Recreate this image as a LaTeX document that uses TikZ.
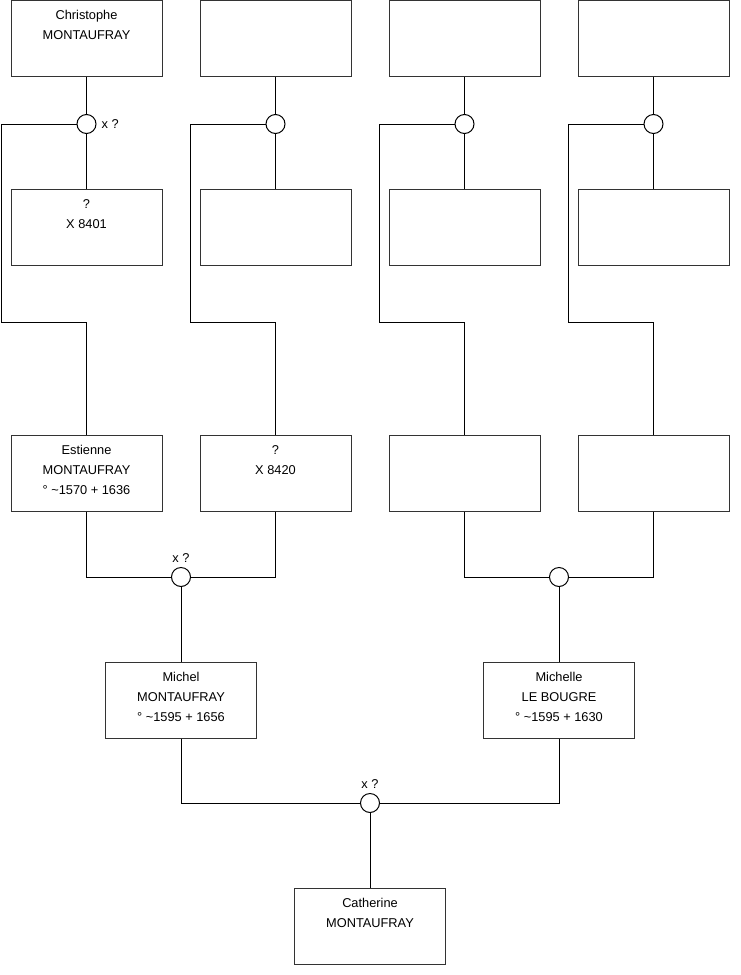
\documentclass[tikz,border=0pt]{standalone}
\usepackage{fontspec}
\setmainfont{Liberation Sans}
\begin{document}
\begin{tikzpicture}[x=1pt,y=-1pt,
  box/.style={draw=black!80, line width=1pt, minimum width=151pt, minimum height=76pt, inner sep=0pt},
  ring/.style={circle, draw=black, fill=white, line width=1pt, minimum size=19pt, inner sep=0pt},
  link/.style={draw=black, line width=1pt},
  txt/.style={font=\fontsize{12.8}{20}\selectfont, align=center, anchor=north, inner sep=0pt, yshift=-10.5pt},
  who/.style={label={[txt]north:{#1}}},
  xq/.style={font=\fontsize{12.8}{15}\selectfont, inner sep=0pt}]
\useasboundingbox (0,0) rectangle (740,975);
% top row
\node[box, who={Christophe\\MONTAUFRAY}] (b1) at (86.5,38.5) {};
\node[box] (b2) at (275.5,38.5) {};
\node[box] (b3) at (464.5,38.5) {};
\node[box] (b4) at (653.5,38.5) {};
% second row
\node[box, who={?\\X 8401}] (s1) at (86.5,227) {};
\node[box] (s2) at (275.5,227) {};
\node[box] (s3) at (464.5,227) {};
\node[box] (s4) at (653.5,227) {};
% third row
\node[box, who={Estienne\\MONTAUFRAY\\° \textasciitilde1570 + 1636}] (e1) at (86.5,473) {};
\node[box, who={?\\X 8420}] (e2) at (275.5,473) {};
\node[box] (e3) at (464.5,473) {};
\node[box] (e4) at (653.5,473) {};
% fourth row
\node[box, who={Michel\\MONTAUFRAY\\° \textasciitilde1595 + 1656}] (m1) at (181,700) {};
\node[box, who={Michelle\\LE BOUGRE\\° \textasciitilde1595 + 1630}] (m2) at (559,700) {};
% bottom
\node[box, who={Catherine\\MONTAUFRAY}] (cat) at (370,926) {};
% unions
\node[ring] (c1) at (86.5,124) {};
\node[ring] (c2) at (275.5,124) {};
\node[ring] (c3) at (464.5,124) {};
\node[ring] (c4) at (653.5,124) {};
\node[ring] (c5) at (181,577) {};
\node[ring] (c6) at (559,577) {};
\node[ring] (c7) at (370,803) {};
% labels
\node[xq, anchor=west] (x1) at ([xshift=5pt]c1.east) {x ?};
\node[xq, anchor=base] (x5) at ([yshift=4.5pt]c5.north) {x ?};
\node[xq, anchor=base] (x7) at ([yshift=4.5pt]c7.north) {x ?};
% connectors
\draw[link] (b1) -- (c1);
\draw[link] (b2) -- (c2);
\draw[link] (b3) -- (c3);
\draw[link] (b4) -- (c4);
\draw[link] (c1) -- (s1);
\draw[link] (c2) -- (s2);
\draw[link] (c3) -- (s3);
\draw[link] (c4) -- (s4);
\draw[link] (c1.west) -| (1,322) -| (e1.north);
\draw[link] (c2.west) -| (190,322) -| (e2.north);
\draw[link] (c3.west) -| (379,322) -| (e3.north);
\draw[link] (c4.west) -| (568,322) -| (e4.north);
\draw[link] (e1.south) |- (c5.west);
\draw[link] (e2.south) |- (c5.east);
\draw[link] (e3.south) |- (c6.west);
\draw[link] (e4.south) |- (c6.east);
\draw[link] (c5) -- (m1);
\draw[link] (c6) -- (m2);
\draw[link] (m1.south) |- (c7.west);
\draw[link] (m2.south) |- (c7.east);
\draw[link] (c7) -- (cat);
\end{tikzpicture}
\end{document}
